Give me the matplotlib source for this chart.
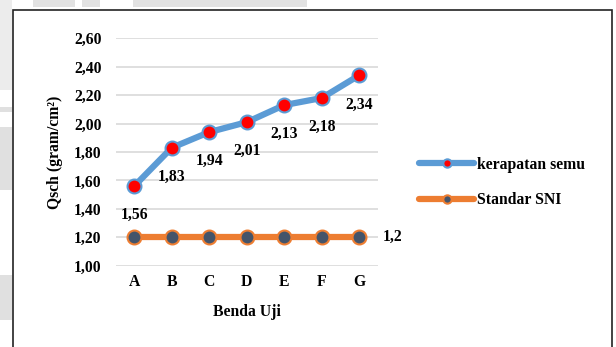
import numpy as np
import matplotlib.pyplot as plt
from matplotlib.patches import Rectangle

plt.rcParams['font.family'] = ['Liberation Serif', 'DejaVu Serif']
plt.rcParams['font.weight'] = 'bold'

# Sample names and measured values
benda_uji = ['A', 'B', 'C', 'D', 'E', 'F', 'G']
kerapatan_semu = [1.56, 1.83, 1.94, 2.01, 2.13, 2.18, 2.34]
standar_sni = [1.2, 1.2, 1.2, 1.2, 1.2, 1.2, 1.2]
y_ticks = [1.00, 1.20, 1.40, 1.60, 1.80, 2.00, 2.20, 2.40, 2.60]

FS = 11.3
W, H = 616, 347
fig = plt.figure(figsize=(W / 100, H / 100), dpi=100)
fig.patch.set_facecolor('white')

# Faint scan shadows around the page edge
def px_rect(x0, y0, x1, y1, **kw):
    fig.patches.append(Rectangle((x0 / W, 1 - y1 / H), (x1 - x0) / W, (y1 - y0) / H,
                                 transform=fig.transFigure, **kw))

for x0, x1 in [(33, 75), (82, 100), (133, 307)]:
    px_rect(x0, 0, x1, 7, color='#e2e2e2', lw=0, zorder=0)
for y0, y1, c in [(0, 90, '#ececec'), (107, 112, '#e0e0e0'),
                  (127, 190, '#e0e0e0'), (275, 320, '#e0e0e0')]:
    px_rect(0, y0, 12, y1, color=c, lw=0, zorder=0)

# Outer frame of the chart
px_rect(13, 10, 612, 360, fill=False, ec='#222222', lw=1.2, zorder=1)

ax = fig.add_axes([115.5 / W, 1 - 265.7 / H, (378 - 115.5) / W, (265.7 - 38.3) / H])
ax.set_facecolor('none')
x = np.arange(len(benda_uji))

ax.plot(x, kerapatan_semu, color='#5B9BD5', lw=4.5, marker='o', ms=10,
        mfc='#FF0000', mec='#5B9BD5', mew=1.5, label='kerapatan semu', zorder=3,
        solid_capstyle='round')
ax.plot(x, standar_sni, color='#ED7D31', lw=4.5, marker='o', ms=10,
        mfc='#44546A', mec='#ED7D31', mew=1.5, label='Standar SNI', zorder=3,
        solid_capstyle='round')

for xi, v in zip(x, kerapatan_semu):
    ax.annotate(f'{v:.2f}'.replace('.', ','), (xi, v), xytext=(0, -21),
                textcoords='offset points', ha='center', va='center',
                fontsize=FS, fontweight='bold')
ax.annotate(f'{standar_sni[-1]:g}'.replace('.', ','), (x[-1], standar_sni[-1]),
            xytext=(17, 0), textcoords='offset points', ha='left', va='center',
            fontsize=FS, fontweight='bold')

ax.set_xlim(-0.5, len(benda_uji) - 0.5)
ax.set_ylim(1.0, 2.6)
ax.set_xticks(x)
ax.set_xticklabels(benda_uji)
ax.set_yticks(y_ticks)
ax.set_yticklabels([f'{t:.2f}'.replace('.', ',') for t in y_ticks])
ax.tick_params(length=0, labelsize=FS, pad=6)
ax.tick_params(axis='y', pad=10)
ax.grid(axis='y', color='#D9D9D9', lw=1.2)
ax.set_axisbelow(True)
for s in ax.spines.values():
    s.set_visible(False)

ax.set_xlabel('Benda Uji', fontsize=FS, fontweight='bold', labelpad=10)
ax.set_ylabel('Qsch (gram/cm²)', fontsize=FS, fontweight='bold', labelpad=8)

ax.legend(loc='center left', bbox_to_anchor=(405 / W, 1 - 182.5 / H),
          bbox_transform=fig.transFigure, frameon=False, fontsize=FS,
          markerscale=0.6, handlelength=3.5, labelspacing=1.25, handletextpad=0.2)

fig.savefig('out.png', dpi=100)
